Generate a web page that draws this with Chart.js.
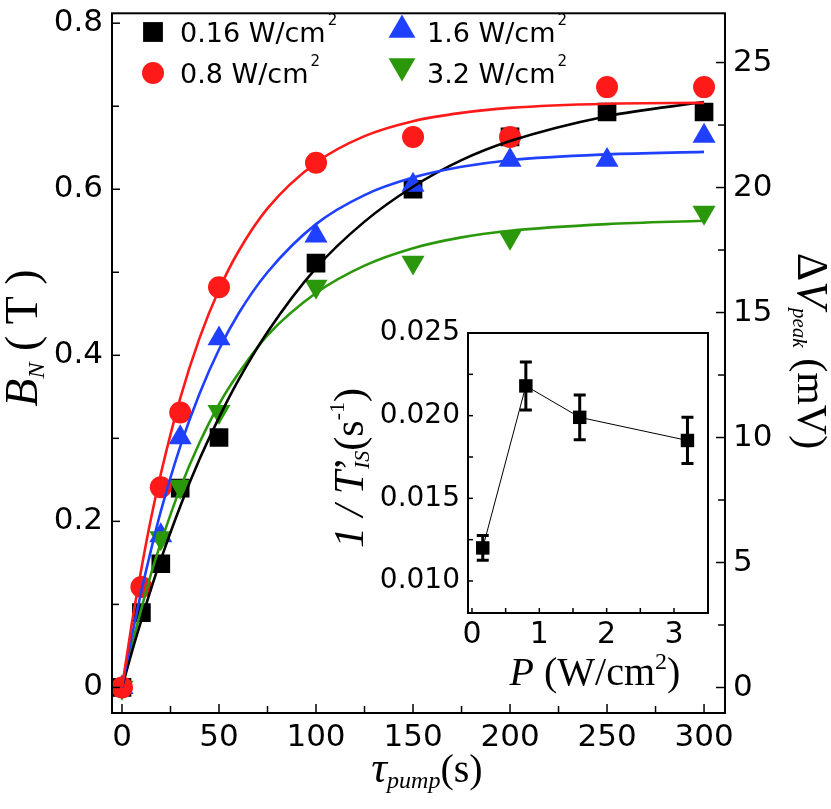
<!DOCTYPE html>
<html>
<head>
<meta charset="utf-8">
<title>Nuclear field vs pump time</title>
<script src="https://cdn.jsdelivr.net/npm/chart.js@4.4.1/dist/chart.umd.min.js"></script>
<style>
  body { margin: 0; background: #fff; }
  #wrap { position: relative; width: 831px; height: 809px; }
  #main { position: absolute; left: 0; top: 0; }
  #inset { position: absolute; left: 320px; top: 290px; }
</style>
</head>
<body>
<div id="wrap">
  <canvas id="main" width="831" height="809"></canvas>
  <canvas id="inset" width="400" height="420"></canvas>
</div>
<script>
// --- Main panel data (B_N in T) ---
const pumpTimes = [0, 10, 20, 30, 50, 100, 150, 200, 250, 300];
const bn016 = [0, 0.090, 0.149, 0.240, 0.301, 0.511, 0.600, 0.663, 0.693, 0.693];
const bn08  = [0, 0.121, 0.241, 0.331, 0.482, 0.632, 0.663, 0.663, 0.723, 0.723];
const bn16  = [0, null, 0.183, 0.301, 0.420, 0.544, 0.605, 0.635, 0.635, 0.664];
const bn32  = [0, null, 0.180, 0.242, 0.332, 0.483, 0.512, 0.542, null, 0.572];

// fitted curves
const fitTimes = [0, 5, 10, 15, 20, 30, 40, 50, 60, 75, 100, 125, 150, 175, 200, 250, 300];
const fit016 = [0, 0.042, 0.081, 0.119, 0.154, 0.218, 0.275, 0.325, 0.370, 0.428, 0.505, 0.561, 0.603, 0.635, 0.658, 0.688, 0.705];
const fit08  = [0, 0.076, 0.143, 0.204, 0.257, 0.348, 0.421, 0.479, 0.525, 0.577, 0.632, 0.664, 0.682, 0.692, 0.698, 0.703, 0.704];
const fit16  = [0, 0.061, 0.116, 0.166, 0.212, 0.290, 0.354, 0.407, 0.450, 0.500, 0.558, 0.593, 0.614, 0.627, 0.635, 0.642, 0.645];
const fit32  = [0, 0.050, 0.095, 0.137, 0.174, 0.240, 0.295, 0.341, 0.378, 0.424, 0.475, 0.508, 0.529, 0.542, 0.550, 0.558, 0.562];

const seriesLabels = ['0.16 W/cm', '0.8 W/cm', '1.6 W/cm', '3.2 W/cm'];

const xTicks = [0, 50, 100, 150, 200, 250, 300];
const xMinor = [25, 75, 125, 175, 225, 275];
const bTicks = [0, 0.2, 0.4, 0.6, 0.8];
const bMinor = [0.1, 0.3, 0.5, 0.7];
const vTicks = [0, 5, 10, 15, 20, 25];
const vMinor = [2.5, 7.5, 12.5, 17.5, 22.5];

// --- Inset data (1/T'_IS vs power) ---
const powers = [0.16, 0.8, 1.6, 3.2];
const rates = [0.0120, 0.0218, 0.0199, 0.0185];
const rateErr = [0.00075, 0.00145, 0.00135, 0.0014];
const pTicks = [0, 1, 2, 3];
const pMinor = [0.5, 1.5, 2.5];
const rTicks = [0.010, 0.015, 0.020, 0.025];
const rMinor = [0.0125, 0.0175, 0.0225];

const RED = '#ff1a1a', BLUE = '#1f40ff', GREEN = '#2b980c', BLACK = '#000000';
const SERIF = '"Liberation Serif", "Times New Roman", serif';
const SANS = '"DejaVu Sans", sans-serif';

Chart.defaults.color = '#000';

const pts = (xs, ys) => xs.map((x, i) => ({ x, y: ys[i] })).filter(p => p.y !== null);

// --- helpers ---
function drawMarker(ctx, style, x, y, r, rot) {
    ctx.beginPath();
    if (style === 'rect') {
        const s = Math.SQRT1_2 * r;
        ctx.rect(x - s, y - s, 2 * s, 2 * s);
    } else if (style === 'circle') {
        ctx.arc(x, y, r, 0, Math.PI * 2);
    } else {
        const a0 = (rot || 0) * Math.PI / 180;
        for (let k = 0; k < 3; k++) {
            const a = a0 + k * 2 * Math.PI / 3;
            const px = x + Math.sin(a) * r, py = y - Math.cos(a) * r;
            k === 0 ? ctx.moveTo(px, py) : ctx.lineTo(px, py);
        }
        ctx.closePath();
    }
    ctx.fill();
}

function drawRich(ctx, parts, cx, cy, angle) {
    ctx.save();
    ctx.translate(cx, cy);
    ctx.rotate(angle);
    ctx.textAlign = 'left';
    ctx.textBaseline = 'alphabetic';
    ctx.fillStyle = '#000';
    let total = 0;
    parts.forEach(p => {
        ctx.font = p.f;
        p.w = ctx.measureText(p.t).width;
        total += p.w + (p.gap || 0);
    });
    let x = -total / 2;
    parts.forEach(p => {
        ctx.font = p.f;
        ctx.fillText(p.t, x, p.dy || 0);
        x += p.w + (p.gap || 0);
    });
    ctx.restore();
}

// frame + inward tick marks
function frameTicks(marks, lw) {
    return {
        id: 'frameTicks',
        afterDraw(chart) {
            const { ctx, chartArea: a, scales } = chart;
            ctx.save();
            ctx.strokeStyle = '#000';
            ctx.lineWidth = lw;
            ctx.strokeRect(a.left, a.top, a.right - a.left, a.bottom - a.top);
            ctx.lineWidth = 1.5;
            marks.forEach(m => {
                const s = scales[m.scale];
                m.values.forEach(v => {
                    const p = s.getPixelForValue(v);
                    ctx.beginPath();
                    if (m.side === 'bottom') { ctx.moveTo(p, a.bottom); ctx.lineTo(p, a.bottom - m.len); }
                    if (m.side === 'left') { ctx.moveTo(a.left, p); ctx.lineTo(a.left + m.len, p); }
                    if (m.side === 'right') { ctx.moveTo(a.right, p); ctx.lineTo(a.right - m.len, p); }
                    ctx.stroke();
                });
            });
            ctx.restore();
        }
    };
}

function titles(list) {
    return {
        id: 'titles',
        afterDraw(chart) {
            list.forEach(t => drawRich(chart.ctx, t.parts, t.x, t.y, t.angle));
        }
    };
}

function fixedAxis(size, horizontal) {
    return s => {
        if (horizontal) s.height = size; else s.width = size;
        s.paddingTop = 0; s.paddingBottom = 0; s.paddingLeft = 0; s.paddingRight = 0;
    };
}

function axis(min, max, ticks, font, padding, fmt, fit, position) {
    return {
        type: 'linear',
        position,
        min, max,
        afterBuildTicks: s => { s.ticks = ticks.map(v => ({ value: v })); },
        afterFit: fit,
        grid: { display: false, drawTicks: false },
        border: { display: false },
        ticks: { font: { family: SANS, size: font }, color: '#000', padding, autoSkip: false, maxRotation: 0, callback: fmt }
    };
}

// --- Main chart ---
function curve(ys, color, order) {
    return {
        data: pts(fitTimes, ys), showLine: true, borderColor: color, borderWidth: 2.6,
        pointRadius: 0, cubicInterpolationMode: 'monotone', fill: false, order
    };
}
function marks(label, ys, color, style, radius, rotation, order) {
    return {
        label, data: pts(pumpTimes, ys), showLine: false, pointStyle: style,
        pointRadius: radius, pointRotation: rotation, pointBackgroundColor: color,
        pointBorderWidth: 0, backgroundColor: color, borderColor: color, order
    };
}

const legendLayout = [
    { style: 'rect', color: BLACK, r: 14, rot: 0, mx: 153, my: 32, tx: 180, ty: 42 },
    { style: 'circle', color: RED, r: 11, rot: 0, mx: 153, my: 73, tx: 180, ty: 83 },
    { style: 'triangle', color: BLUE, r: 15.5, rot: 0, mx: 402, my: 30, tx: 427, ty: 42 },
    { style: 'triangle', color: GREEN, r: 15.5, rot: 180, mx: 402, my: 66, tx: 427, ty: 83 }
];

const legendPlugin = {
    id: 'cornerLegend',
    afterDraw(chart) {
        const ctx = chart.ctx;
        ctx.save();
        legendLayout.forEach((e, i) => {
            ctx.fillStyle = e.color;
            drawMarker(ctx, e.style, e.mx, e.my, e.r, e.rot);
            ctx.fillStyle = '#000';
            ctx.font = '27px ' + SANS;
            ctx.textAlign = 'left';
            ctx.textBaseline = 'alphabetic';
            ctx.fillText(seriesLabels[i], e.tx, e.ty);
            const w = ctx.measureText(seriesLabels[i]).width;
            ctx.font = '15px ' + SANS;
            ctx.fillText('2', e.tx + w + 2, e.ty - 17);
        });
        ctx.restore();
    }
};

new Chart(document.getElementById('main'), {
    type: 'scatter',
    data: {
        datasets: [
            curve(fit08, RED, 0),
            curve(fit16, BLUE, 1),
            curve(fit016, BLACK, 2),
            curve(fit32, GREEN, 3),
            marks(seriesLabels[1], bn08, RED, 'circle', 11, 0, 10),
            marks(seriesLabels[3], bn32, GREEN, 'triangle', 13.3, 180, 11),
            marks(seriesLabels[2], bn16, BLUE, 'triangle', 13.3, 0, 12),
            marks(seriesLabels[0], bn016, BLACK, 'rect', 13.2, 0, 13)
        ]
    },
    options: {
        responsive: false,
        animation: false,
        layout: { padding: { top: 2, left: 0, right: 0, bottom: 0 } },
        plugins: { legend: { display: false }, tooltip: { enabled: false } },
        scales: {
            x: axis(-5.15, 310.8, xTicks, 31, 6, v => String(v), fixedAxis(96, true), 'bottom'),
            y: axis(-0.0308, 0.8119, bTicks, 31, 9, v => (v === 0 ? '0' : v.toFixed(1)), fixedAxis(112, false), 'left'),
            y2: axis(-1.02, 26.97, vTicks, 31, 8, v => String(v), fixedAxis(106, false), 'right')
        }
    },
    plugins: [
        frameTicks([
            { scale: 'x', side: 'bottom', values: xTicks, len: 9 },
            { scale: 'x', side: 'bottom', values: xMinor, len: 7 },
            { scale: 'y', side: 'left', values: bTicks, len: 8 },
            { scale: 'y', side: 'left', values: bMinor, len: 7 },
            { scale: 'y2', side: 'right', values: vTicks, len: 9 },
            { scale: 'y2', side: 'right', values: vMinor, len: 7 }
        ], 2),
        legendPlugin,
        titles([
            { x: 37, y: 338, angle: -Math.PI / 2, parts: [
                { t: 'B', f: 'italic 46px ' + SERIF },
                { t: 'N', f: 'italic 24px ' + SERIF, dy: 7 },
                { t: ' ( T )', f: '46px ' + SERIF }
            ] },
            { x: 798, y: 351, angle: Math.PI / 2, parts: [
                { t: 'Δ', f: '44px ' + SERIF },
                { t: 'V', f: 'italic 44px ' + SERIF },
                { t: 'peak', f: 'italic 21px ' + SERIF, dy: 5 },
                { t: ' (mV)', f: '42px ' + SERIF }
            ] },
            { x: 427, y: 782, angle: 0, parts: [
                { t: 'τ', f: 'italic 44px ' + SERIF },
                { t: 'pump', f: 'italic 24px ' + SERIF, dy: 6 },
                { t: '(s)', f: '40px ' + SERIF }
            ] }
        ])
    ]
});

// --- Inset chart ---
const errorBars = {
    id: 'errorBars',
    afterDatasetsDraw(chart) {
        const { ctx, scales: { x, y } } = chart;
        ctx.save();
        ctx.strokeStyle = '#000';
        ctx.lineWidth = 3;
        powers.forEach((p, i) => {
            const px = x.getPixelForValue(p);
            const top = y.getPixelForValue(rates[i] + rateErr[i]);
            const bot = y.getPixelForValue(rates[i] - rateErr[i]);
            ctx.beginPath();
            ctx.moveTo(px, top); ctx.lineTo(px, bot);
            ctx.moveTo(px - 6, top); ctx.lineTo(px + 6, top);
            ctx.moveTo(px - 6, bot); ctx.lineTo(px + 6, bot);
            ctx.stroke();
        });
        ctx.restore();
    }
};

new Chart(document.getElementById('inset'), {
    type: 'scatter',
    data: {
        datasets: [{
            data: pts(powers, rates), showLine: true, borderColor: '#000', borderWidth: 1,
            pointStyle: 'rect', pointRadius: 9.5, pointBackgroundColor: '#000', pointBorderWidth: 0
        }]
    },
    options: {
        responsive: false,
        animation: false,
        layout: { padding: { top: 43, right: 12, left: 0, bottom: 0 } },
        plugins: { legend: { display: false }, tooltip: { enabled: false } },
        scales: {
            x: axis(-0.059, 3.505, pTicks, 30, 4, v => String(v), fixedAxis(97, true), 'bottom'),
            y: axis(0.008064, 0.025, rTicks, 28, 8, v => v.toFixed(3), fixedAxis(148, false), 'left')
        }
    },
    plugins: [
        errorBars,
        frameTicks([
            { scale: 'x', side: 'bottom', values: pTicks, len: 5 },
            { scale: 'x', side: 'bottom', values: pMinor, len: 5 },
            { scale: 'y', side: 'left', values: rTicks, len: 5 },
            { scale: 'y', side: 'left', values: rMinor, len: 5 }
        ], 2),
        titles([
            { x: 43, y: 178, angle: -Math.PI / 2, parts: [
                { t: '1 / T', f: 'italic 42px ' + SERIF },
                { t: '’', f: '42px ' + SERIF, gap: -12 },
                { t: 'IS', f: 'italic 22px ' + SERIF, dy: 6 },
                { t: '(s', f: '42px ' + SERIF },
                { t: '-1', f: '22px ' + SERIF, dy: -19 },
                { t: ')', f: '42px ' + SERIF }
            ] },
            { x: 275, y: 395, angle: 0, parts: [
                { t: 'P', f: 'italic 40px ' + SERIF },
                { t: ' (W/cm', f: '40px ' + SERIF },
                { t: '2', f: '24px ' + SERIF, dy: -16 },
                { t: ')', f: '40px ' + SERIF }
            ] }
        ])
    ]
});
</script>
</body>
</html>
